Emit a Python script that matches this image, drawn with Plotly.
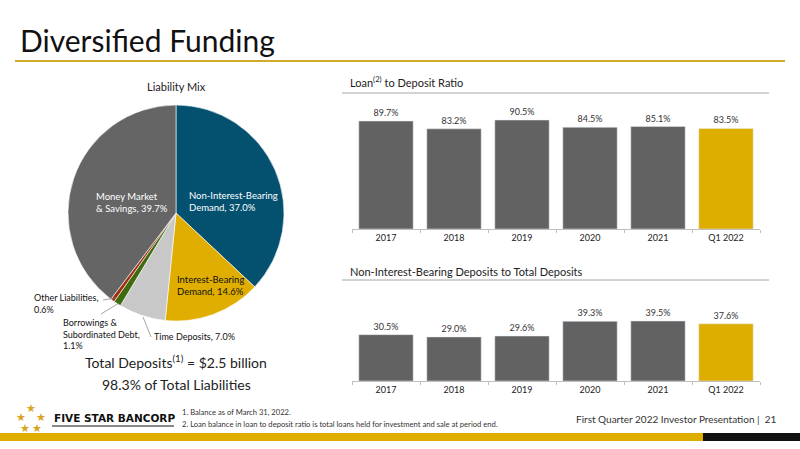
import plotly.graph_objects as go

# data
mix_labels = ["Non-Interest-Bearing Demand", "Interest-Bearing Demand", "Time Deposits",
              "Borrowings & Subordinated Debt", "Other Liabilities", "Money Market & Savings"]
mix_values = [37.0, 14.6, 7.0, 1.1, 0.6, 39.7]
mix_colors = ["#03506F", "#DFAE00", "#C8C8C8", "#3E6A10", "#A02E12", "#656565"]

periods = ["2017", "2018", "2019", "2020", "2021", "Q1 2022"]
loan_to_deposit = [89.7, 83.2, 90.5, 84.5, 85.1, 83.5]
nib_to_total = [30.5, 29.0, 29.6, 39.3, 39.5, 37.6]
bar_colors = ["#626262"] * 5 + ["#DDAD00"]

W, H = 800, 449
FONT = "Lato"


def fx(x):
    return x / W


def fy(y):
    return 1 - y / H


fig = go.Figure()

fig.add_trace(go.Pie(
    labels=mix_labels, values=mix_values, sort=False, direction="clockwise", rotation=0,
    marker=dict(colors=mix_colors, line=dict(color="white", width=0.6)),
    textinfo="none", hoverinfo="label+percent", showlegend=False,
    domain=dict(x=[fx(68), fx(284)], y=[fy(321), fy(105)]),
))

fig.add_trace(go.Bar(
    x=periods, y=loan_to_deposit, marker_color=bar_colors,
    text=[f"{v:.1f}%" for v in loan_to_deposit], textposition="outside",
    textfont=dict(size=9, color="#333333"), cliponaxis=False,
    xaxis="x", yaxis="y", showlegend=False,
))
fig.add_trace(go.Bar(
    x=periods, y=nib_to_total, marker_color=bar_colors,
    text=[f"{v:.1f}%" for v in nib_to_total], textposition="outside",
    textfont=dict(size=9, color="#333333"), cliponaxis=False,
    xaxis="x2", yaxis="y2", showlegend=False,
))

xax = dict(showline=True, linecolor="#BFBFBF", linewidth=1, ticks="outside", tickson="boundaries",
           ticklen=3, tickcolor="#BFBFBF", tickfont=dict(size=9, color="#222222"),
           showgrid=False, fixedrange=True)
fig.update_layout(
    width=W, height=H, margin=dict(l=0, r=0, t=0, b=0),
    paper_bgcolor="white", plot_bgcolor="white",
    font=dict(family=FONT, color="#222222"),
    bargap=0.2,
    xaxis=dict(domain=[fx(352), fx(760)], anchor="y", **xax),
    yaxis=dict(domain=[fy(229), fy(105)], range=[0, 103], visible=False),
    xaxis2=dict(domain=[fx(352), fx(760)], anchor="y2", **xax),
    yaxis2=dict(domain=[fy(381), fy(300)], range=[0, 53.3], visible=False),
)

ann = []


def text(x, y, s, size, color="#222222", xanchor="left", **kw):
    ann.append(dict(x=fx(x), y=fy(y), xref="paper", yref="paper", text=s, showarrow=False,
                    xanchor=xanchor, yanchor="middle", align=xanchor if xanchor != "center" else "center",
                    font=dict(size=size, color=color, family=kw.get("family", FONT))))


text(18, 40, "Diversified Funding", 30, "#111111")
text(176, 86, "Liability Mix", 11, xanchor="center")
text(187, 201, "Non-Interest-Bearing<br>Demand, 37.0%", 9.5, "white")
text(94, 203, "Money Market<br>& Savings, 39.7%", 9.5, "white")
text(175, 285, "Interest-Bearing<br>Demand, 14.6%", 9.5, "#111111")
text(152, 336, "Time Deposits, 7.0%", 9, "#111111")
text(61, 334, "Borrowings &<br>Subordinated Debt,<br>1.1%", 9, "#111111")
text(32, 303, "Other Liabilities,<br>0.6%", 9, "#111111")
text(176, 361, "Total Deposits<sup>(1)</sup> = $2.5 billion", 14, xanchor="center")
text(176, 384, "98.3% of Total Liabilities", 14, xanchor="center")

text(348, 81, "Loan<sup>(2)</sup> to Deposit Ratio", 11)
text(348, 271, "Non-Interest-Bearing Deposits to Total Deposits", 11)

# footer
for sx, sy in [(31, 408), (21, 417), (41, 417), (25, 428), (37, 428)]:
    text(sx, sy, "★", 11, "#D9A521", xanchor="center", family="DejaVu Sans")
text(52, 418, "<b>FIVE STAR BANCORP</b>", 10.5, "#111111", family="DejaVu Sans")
text(180, 412, "1. Balance as of March 31, 2022.", 7.6, "#333333")
text(180, 424, "2. Loan balance in loan to deposit ratio is total loans held for investment and sale at period end.",
     7.6, "#333333")
text(779, 419, "First Quarter 2022 Investor Presentation |  21", 10, "#333333", xanchor="right")

fig.update_layout(annotations=ann)


def line(x0, y0, x1, y1, color, width=1):
    fig.add_shape(type="line", xref="paper", yref="paper", x0=fx(x0), y0=fy(y0), x1=fx(x1), y1=fy(y1),
                  line=dict(color=color, width=width))


def rect(x0, y0, x1, y1, color):
    fig.add_shape(type="rect", xref="paper", yref="paper", x0=fx(x0), y0=fy(y0), x1=fx(x1), y1=fy(y1),
                  line=dict(width=0), fillcolor=color)


line(15, 61, 785, 61, "#D4AA2A", 2)
line(342, 93, 769, 93, "#A6A6A6", 1)
line(342, 280, 769, 280, "#A6A6A6", 1)
# leader lines
line(103, 300, 116, 298, "#808080", 0.7)
line(101, 314, 119, 303, "#808080", 0.7)
line(151, 337, 143, 317, "#808080", 0.7)
# logo underline and bottom bar
line(52, 426, 174, 426, "#111111", 1)
rect(0, 433, 703, 441, "#DDAD00")
rect(703, 433, 800, 441, "#111111")

# page body has a default 8px margin; drop it so the figure sits at the window origin
fig.write_html("out.html", config={"displayModeBar": False},
               post_script="document.body.style.margin='0';")
